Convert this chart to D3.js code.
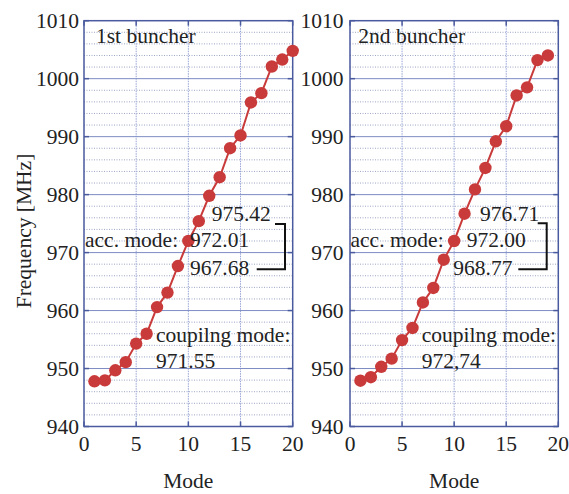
<!DOCTYPE html>
<html>
<head>
<meta charset="utf-8">
<script src="https://cdn.jsdelivr.net/npm/d3@7"></script>
<style>
  html, body { margin: 0; padding: 0; background: #fff; }
  svg { display: block; }
  text { font-family: "Liberation Serif", "Times New Roman", serif; fill: #222; }
</style>
</head>
<body>
<svg id="chart" width="569" height="494"></svg>
<script>
// ---- data ----
const modes1 = [1,2,3,4,5,6,7,8,9,10,11,12,13,14,15,16,17,18,19,20];
const freq1  = [947.8, 947.95, 949.7, 951.1, 954.3, 956.0, 960.6, 963.1, 967.68, 972.01, 975.42,
                979.8, 983.0, 988.0, 990.2, 995.9, 997.5, 1002.1, 1003.3, 1004.8];
const modes2 = [1,2,3,4,5,6,7,8,9,10,11,12,13,14,15,16,17,18,19];
const freq2  = [947.9, 948.5, 950.3, 951.7, 954.9, 957.0, 961.4, 963.9, 968.77, 972.00, 976.71,
                980.9, 984.6, 989.2, 991.8, 997.1, 998.5, 1003.2, 1004.0];
const panelTitles = ["1st buncher", "2nd buncher"];
const accLabels1 = ["975.42", "972.01", "967.68"];
const accLabels2 = ["976.71", "972.00", "968.77"];
const coupLabels = ["971.55", "972,74"];
const xTicks = [0, 5, 10, 15, 20];
const yTicks = [940, 950, 960, 970, 980, 990, 1000, 1010];
const yMinor = [942,944,946,948,952,954,956,958,962,964,966,968,972,974,976,978,982,984,986,988,992,994,996,998,1002,1004,1006,1008];

(function () {
const svg = d3.select("#chart");
const FS = 21.5;
const T = 20.7, B = 426.5;
const y = d3.scaleLinear().domain([940, 1010]).range([B, T]);

function panel(L, R, modes, freq, title, acc, coup, bracket, offs) {
  const x = d3.scaleLinear().domain([0, 20]).range([L, R]);
  const g = svg.append("g");

  g.selectAll(".minor").data(yMinor).join("line")
    .attr("x1", L).attr("x2", R).attr("y1", d => y(d)).attr("y2", d => y(d))
    .attr("stroke", "#9da6c4").attr("stroke-width", 1).attr("stroke-dasharray", "1,1.5");
  g.selectAll(".vg").data([5, 10, 15]).join("line")
    .attr("x1", d => x(d)).attr("x2", d => x(d)).attr("y1", T).attr("y2", B)
    .attr("stroke", "#97a4d6").attr("stroke-width", 1).attr("stroke-dasharray", "1.5,1");
  g.selectAll(".major").data(yTicks.slice(1, -1)).join("line")
    .attr("x1", L).attr("x2", R).attr("y1", d => y(d)).attr("y2", d => y(d))
    .attr("stroke", "#7d8cc4").attr("stroke-width", 1);

  const tk = 5;
  yTicks.forEach(v => {
    g.append("line").attr("x1", L).attr("x2", L + tk).attr("y1", y(v)).attr("y2", y(v)).attr("stroke", "#4a5a9e").attr("stroke-width", 1.5);
    g.append("line").attr("x1", R - tk).attr("x2", R).attr("y1", y(v)).attr("y2", y(v)).attr("stroke", "#4a5a9e").attr("stroke-width", 1.5);
  });
  xTicks.forEach(v => {
    g.append("line").attr("x1", x(v)).attr("x2", x(v)).attr("y1", B).attr("y2", B - tk).attr("stroke", "#4a5a9e").attr("stroke-width", 1.5);
    g.append("line").attr("x1", x(v)).attr("x2", x(v)).attr("y1", T).attr("y2", T + tk).attr("stroke", "#4a5a9e").attr("stroke-width", 1.5);
  });

  g.append("rect").attr("x", L).attr("y", T).attr("width", R - L).attr("height", B - T)
    .attr("fill", "none").attr("stroke", "#4a5a9e").attr("stroke-width", 1.5);

  g.selectAll(".yl").data(yTicks).join("text")
    .attr("x", L - offs.yl).attr("y", d => y(d)).attr("dy", "0.36em")
    .attr("text-anchor", "end").attr("font-size", FS).text(d => d);
  g.selectAll(".xl").data(xTicks).join("text")
    .attr("x", d => x(d)).attr("y", 451)
    .attr("text-anchor", "middle").attr("font-size", FS).text(d => d);

  g.append("text").attr("x", (L + R) / 2).attr("y", 488).attr("text-anchor", "middle")
    .attr("font-size", FS).text("Mode");

  g.append("text").attr("x", L + offs.title).attr("y", 43).attr("font-size", FS).text(title);

  const pts = modes.map((m, i) => [m, freq[i]]);
  g.append("path").datum(pts)
    .attr("d", d3.line().x(d => x(d[0])).y(d => y(d[1])))
    .attr("fill", "none").attr("stroke", "#c93a3a").attr("stroke-width", 2);
  g.selectAll(".pt").data(pts).join("circle")
    .attr("cx", d => x(d[0])).attr("cy", d => y(d[1])).attr("r", 6.2)
    .attr("fill", "#c93a3a");

  g.append("text").attr("x", L + offs.a0).attr("y", 220.7).attr("font-size", FS).text(acc[0]);
  g.append("text").attr("x", L + offs.acc).attr("y", 247.3).attr("font-size", FS).text("acc. mode:");
  g.append("text").attr("x", L + offs.a1).attr("y", 247.3).attr("font-size", FS).text(acc[1]);
  g.append("text").attr("x", L + offs.a2).attr("y", 275).attr("font-size", FS).text(acc[2]);
  g.append("path")
    .attr("d", `M${L + bracket.t0},${bracket.yt} H${L + bracket.v} V269.3 H${L + bracket.b0}`)
    .attr("fill", "none").attr("stroke", "#111").attr("stroke-width", 2);
  g.append("text").attr("x", L + offs.coup).attr("y", 341.7).attr("font-size", FS).text("coupilng mode:");
  g.append("text").attr("x", L + offs.coup).attr("y", 368.3).attr("font-size", FS).text(coup);
}

panel(84, 292.7, modes1, freq1, panelTitles[0], accLabels1, coupLabels[0],
      { t0: 191, v: 201, b0: 172.7, yt: 224 },
      { yl: 5, title: 12, a0: 127.7, acc: 1, a1: 106, a2: 106, coup: 72 });
panel(350, 558.3, modes2, freq2, panelTitles[1], accLabels2, coupLabels[1],
      { t0: 187.7, v: 196.7, b0: 168.3, yt: 223.3 },
      { yl: 6.5, title: 8.3, a0: 130, acc: 0.5, a1: 116.7, a2: 103.3, coup: 71.7 });

svg.append("text")
  .attr("transform", "translate(31,231) rotate(-90)")
  .attr("text-anchor", "middle").attr("font-size", FS).text("Frequency [MHz]");
})();
</script>
</body>
</html>
